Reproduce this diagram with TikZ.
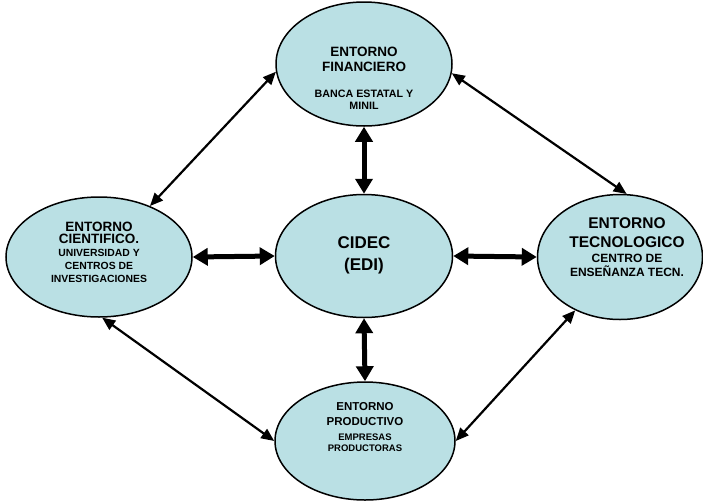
\documentclass[tikz,border=0pt]{standalone}
\usepackage{fontspec}
\setmainfont{Liberation Sans}
\usetikzlibrary{shapes.geometric,arrows.meta}
\definecolor{ellfill}{RGB}{186,224,228}
\newcommand{\fs}[2]{\bfseries\fontsize{#1}{#2}\selectfont}
\tikzset{
  ent/.style={ellipse,draw=black,line width=1.5pt,fill=ellfill,inner sep=0pt},
  txt/.style={align=center,inner sep=0pt},
  thick arr/.style={{Triangle[length=15pt,width=17pt]}-{Triangle[length=15pt,width=17pt]},line width=5pt},
  thin arr/.style={{Triangle[length=13pt,width=11pt]}-{Triangle[length=13pt,width=11pt]},line width=2.2pt},
}
\begin{document}
\begin{tikzpicture}[x=1pt,y=-1pt]
\useasboundingbox (0,0) rectangle (703,501);
\node[ent,minimum width=176pt,minimum height=124pt] (top) at (364,64) {};
\node[ent,minimum width=177pt,minimum height=123pt] (cen) at (364,256) {};
\node[ent,minimum width=186pt,minimum height=120pt] (lef) at (99,257) {};
\node[ent,minimum width=165pt,minimum height=125pt] (rig) at (620,257) {};
\node[ent,minimum width=180pt,minimum height=118pt] (bot) at (365,441) {};

\node[txt,font=\fs{13.5}{15}] (toptxt) at (364,78) {ENTORNO\\FINANCIERO\\[11pt]\fs{10.7}{12}BANCA ESTATAL Y\\[-3pt]\fs{10.7}{12}MINIL};
\node[txt,font=\fs{17}{22}] (centxt) at (364,255) {CIDEC\\(EDI)};
\node[txt,font=\fs{13.5}{12.8}] (leftxt) at (99,252) {ENTORNO\\CIENTIFICO.\\\fs{10.4}{12}UNIVERSIDAD Y\\\fs{10.4}{12}CENTROS DE\\\fs{10.4}{12}INVESTIGACIONES};
\node[txt,font=\fs{15.5}{19}] (rigtxt) at (627,247) {ENTORNO\\TECNOLOGICO\\[-4pt]\fs{12}{14}CENTRO DE\\[-5pt]\fs{12}{14}ENSEÑANZA TECN.};
\node[txt,font=\fs{11.5}{15}] (bottxt) at (365,427) {ENTORNO\\PRODUCTIVO\\\fs{9.5}{12}EMPRESAS\\[-4pt]\fs{9.5}{12}PRODUCTORAS};

\draw[thick arr] (top.south) -- (cen.north);
\draw[thick arr] (lef.east) -- (cen.west);
\draw[thick arr] (rig.west) -- (cen.east);
\draw[thick arr] (bot.north) -- (cen.south);

\draw[thin arr] (top.185) -- (lef.45);
\draw[thin arr] (top.-6) -- (rig.84);
\draw[thin arr] (lef.-87) -- (bot.180);
\draw[thin arr] (rig.230) -- (bot.0);
\end{tikzpicture}
\end{document}
